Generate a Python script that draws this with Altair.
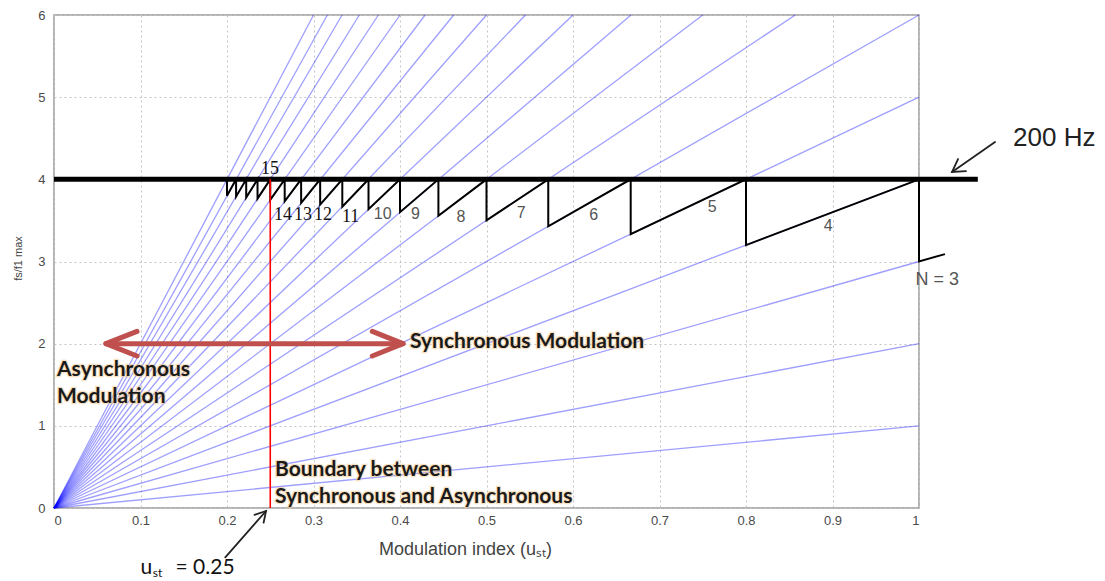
import altair as alt
import pandas as pd

# ---- data ----
# blue lines fs/f1max = N * u, each from the origin to its end point (clipped at the frame)
N_vals = list(range(1, 21))
line_end_u = [1, 1, 1, 1, 1, 1, 0.857, 0.75, 0.667, 0.6, 0.545, 0.5, 0.462, 0.429, 0.4, 0.375, 0.353, 0.333, 0.316, 0.3]
line_end_f = [1, 2, 3, 4, 5, 6, 6, 6, 6, 6, 6, 6, 6, 6, 6, 6, 6, 6, 6, 6]

# black sawtooth (switching of N at the 200 Hz limit)
saw_u = [0.2, 0.2, 0.2105, 0.2105, 0.2222, 0.2222, 0.2353, 0.2353, 0.25, 0.25, 0.2667, 0.2667,
         0.2857, 0.2857, 0.3077, 0.3077, 0.3333, 0.3333, 0.3636, 0.3636, 0.4, 0.4, 0.4444, 0.4444,
         0.5, 0.5, 0.5714, 0.5714, 0.6667, 0.6667, 0.8, 0.8, 1.0, 1.0, 1.03]
saw_f = [4.0, 3.8, 4.0, 3.789, 4.0, 3.778, 4.0, 3.765, 4.0, 3.75, 4.0, 3.733,
         4.0, 3.714, 4.0, 3.692, 4.0, 3.667, 4.0, 3.636, 4.0, 3.6, 4.0, 3.556,
         4.0, 3.5, 4.0, 3.429, 4.0, 3.333, 4.0, 3.2, 4.0, 3.0, 3.09]

# 200 Hz limit line
limit_u = [0.0, 1.068]
limit_f = [4.0, 4.0]

# boundary u_st = 0.25
bound_u = [0.25, 0.25]
bound_f = [0.0, 4.0]

# red double arrow (segments: shaft, left head, right head)
darrow_seg = [0, 0, 1, 1, 1, 2, 2, 2]
darrow_u = [0.06, 0.4035, 0.096, 0.06, 0.096, 0.368, 0.4035, 0.368]
darrow_f = [2.0, 2.0, 2.15, 2.0, 1.85, 2.15, 2.0, 1.85]

# black annotation arrows (200 Hz and u_st)
arrow_seg = [0, 0, 1, 1, 1, 2, 2, 3, 3, 3]
arrow_u = [1.0879, 1.0382, 1.0543, 1.0382, 1.0451, 0.198, 0.2451, 0.2318, 0.2451, 0.2423]
arrow_f = [4.454, 4.089, 4.101, 4.089, 4.247, -0.60, -0.0365, -0.083, -0.0365, -0.179]

# N labels
serif_labels = ["15", "14", "13", "12", "11"]
serif_u = [0.2497, 0.2647, 0.288, 0.311, 0.343]
serif_f = [4.126, 3.566, 3.566, 3.566, 3.541]
sans_labels = ["10", "9", "8", "7", "6", "5", "4", "N = 3"]
sans_u = [0.380, 0.418, 0.4705, 0.540, 0.624, 0.761, 0.895, 1.021]
sans_f = [3.578, 3.578, 3.541, 3.590, 3.563, 3.663, 3.432, 2.775]
sans_size = [16, 16, 16, 16, 16, 16, 16, 18]

# bold annotations
bold_text = ["Synchronous  Modulation", "Asynchronous", "Modulation", "Boundary between", "Synchronous and Asynchronous"]
bold_u = [0.4116, 0.0035, 0.0035, 0.2555, 0.2555]
bold_f = [2.02, 1.68, 1.351, 0.4625, 0.134]

hz_text = ["200 Hz"]
hz_u = [1.1087]
hz_f = [4.50]

ust_text = ["u", "st", "= 0.25"]
ust_u = [0.1, 0.1142, 0.1405]
ust_f = [-0.73, -0.79, -0.73]
ust_size = [21, 12, 21]

x_ticks = [0, 0.1, 0.2, 0.3, 0.4, 0.5, 0.6, 0.7, 0.8, 0.9, 1]
y_ticks = [0, 1, 2, 3, 4, 5, 6]

# ---- tables ----
rows = []
for n, ue, fe in zip(N_vals, line_end_u, line_end_f):
    rows.append({"N": n, "u": 0.0, "f": 0.0})
    rows.append({"N": n, "u": ue, "f": fe})
blue_df = pd.DataFrame(rows)
saw_df = pd.DataFrame({"u": saw_u, "f": saw_f, "i": list(range(len(saw_u)))})
limit_df = pd.DataFrame({"u": limit_u, "f": limit_f})
bound_df = pd.DataFrame({"u": bound_u, "f": bound_f})
darrow_df = pd.DataFrame({"seg": darrow_seg, "u": darrow_u, "f": darrow_f, "i": list(range(len(darrow_u)))})
arrow_df = pd.DataFrame({"seg": arrow_seg, "u": arrow_u, "f": arrow_f, "i": list(range(len(arrow_u)))})
serif_df = pd.DataFrame({"t": serif_labels, "u": serif_u, "f": serif_f})
sans_df = pd.DataFrame({"t": sans_labels, "u": sans_u, "f": sans_f, "s": sans_size})
bold_df = pd.DataFrame({"t": bold_text, "u": bold_u, "f": bold_f})
hz_df = pd.DataFrame({"t": hz_text, "u": hz_u, "f": hz_f})
ust_df = pd.DataFrame({"t": ust_text, "u": ust_u, "f": ust_f, "s": ust_size})

xs = alt.Scale(domain=[0, 1], nice=False, zero=False)
ys = alt.Scale(domain=[0, 6], nice=False, zero=False)

x_axis = alt.Axis(values=x_ticks, format="~g", title="Modulation index (uₛₜ)", grid=True,
                  gridDash=[2, 3], gridColor="#c4c4c4", domain=False, ticks=False,
                  labelFontSize=13, labelColor="#4a4a4a", labelFont="Liberation Sans",
                  labelPadding=6, titleFont="Liberation Sans", titleFontSize=18,
                  titleFontWeight="normal", titleColor="#444444", titleX=411, titleY=41,
                  titleBaseline="middle", titleAlign="center")
y_axis = alt.Axis(values=y_ticks, format="d", title="fs/f1 max", grid=True,
                  gridDash=[2, 3], gridColor="#c4c4c4", domain=False, ticks=False,
                  labelFontSize=13, labelColor="#4a4a4a", labelFont="Liberation Sans",
                  labelPadding=9, titleFont="Liberation Sans", titleFontSize=11,
                  titleFontWeight="normal", titleColor="#444444", titleX=-36, titleY=243,
                  titleAngle=270, titleBaseline="middle", titleAlign="center")

X = alt.X("u:Q", scale=xs, axis=x_axis)
Y = alt.Y("f:Q", scale=ys, axis=y_axis)
Xn = alt.X("u:Q", scale=xs)
Yn = alt.Y("f:Q", scale=ys)

blue = alt.Chart(blue_df).mark_line(color="#0000ff", opacity=0.38, strokeWidth=1.3).encode(
    x=X, y=Y, detail="N:N")
limit = alt.Chart(limit_df).mark_line(color="black", strokeWidth=5).encode(x=Xn, y=Yn)
saw = alt.Chart(saw_df).mark_line(color="black", strokeWidth=2, strokeJoin="miter").encode(
    x=Xn, y=Yn, order="i:Q")
bound = alt.Chart(bound_df).mark_line(color="#ff0000", strokeWidth=1.6).encode(x=Xn, y=Yn)
darrow = alt.Chart(darrow_df).mark_line(color="#c0504d", strokeWidth=5, strokeCap="round",
                                        strokeJoin="round").encode(
    x=Xn, y=Yn, detail="seg:N", order="i:Q")
arrows = alt.Chart(arrow_df).mark_line(color="#222222", strokeWidth=1.8, strokeCap="round").encode(
    x=Xn, y=Yn, detail="seg:N", order="i:Q")

serif_txt = alt.Chart(serif_df).mark_text(font="Liberation Serif", fontSize=18, color="#111111",
                                          align="center", baseline="middle").encode(
    x=Xn, y=Yn, text="t:N")
sans_txt = alt.Chart(sans_df).mark_text(font="Liberation Sans", color="#555555",
                                        align="center", baseline="middle").encode(
    x=Xn, y=Yn, text="t:N", size=alt.Size("s:Q", scale=None, legend=None))
bold_halo = alt.Chart(bold_df).mark_text(font="Lato", fontSize=21, fontWeight="bold",
                                         color="#f3c98f", stroke="#f3c98f", strokeWidth=2.5,
                                         opacity=0.55, align="left", baseline="middle").encode(
    x=Xn, y=Yn, text="t:N")
bold_txt = alt.Chart(bold_df).mark_text(font="Lato", fontSize=21, fontWeight="bold",
                                        color="#1a1a1a", align="left", baseline="middle").encode(
    x=Xn, y=Yn, text="t:N")
hz_txt = alt.Chart(hz_df).mark_text(font="Liberation Sans", fontSize=26, color="#222222",
                                    align="left", baseline="middle").encode(
    x=Xn, y=Yn, text="t:N")
ust_txt = alt.Chart(ust_df).mark_text(font="Lato", color="#111111", align="left",
                                      baseline="middle").encode(
    x=Xn, y=Yn, text="t:N", size=alt.Size("s:Q", scale=None, legend=None))

chart = alt.layer(blue, limit, saw, bound, darrow, arrows, serif_txt, sans_txt,
                  bold_halo, bold_txt, hz_txt, ust_txt).properties(
    width=865, height=493,
    autosize=alt.AutoSizeParams(type="none"),
    padding={"left": 54, "top": 15, "right": 186, "bottom": 73},
    background="white",
).configure_view(stroke="#9a9a9a", strokeWidth=1.5)

chart.save("out.html", embed_options={"renderer": "svg", "actions": False})
